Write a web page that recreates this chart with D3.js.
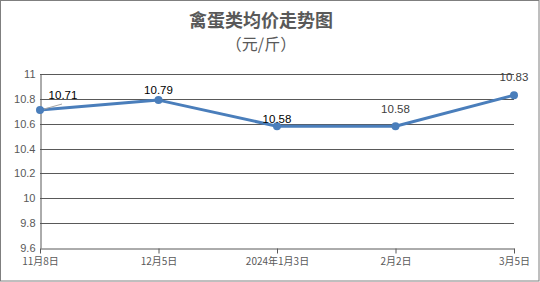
<!DOCTYPE html>
<html><head><meta charset="utf-8">
<script src="https://cdn.jsdelivr.net/npm/d3@7"></script>
<style>body{margin:0;background:#fff}svg{display:block}</style>
</head><body>
<script>
const categories = ["11月8日","12月5日","2024年1月3日","2月2日","3月5日"];
const values = [10.71, 10.79, 10.58, 10.58, 10.83];
const yTicks = [9.6, 9.8, 10, 10.2, 10.4, 10.6, 10.8, 11];
const yTickLabels = ["9.6","9.8","10","10.2","10.4","10.6","10.8","11"];
const title = "禽蛋类均价走势图";
const subtitle = "（元/斤）";

const W = 540, H = 282;
const svg = d3.select("body").append("svg").attr("width", W).attr("height", H);
svg.append("rect").attr("x",0.5).attr("y",0.5).attr("width",W-1.5).attr("height",H-1.5)
  .attr("fill","#fff").attr("stroke","#7f7f7f").attr("stroke-width",1);

const font = "'Noto Sans CJK SC','Microsoft YaHei',sans-serif";
svg.append("text").attr("x",261).attr("y",27).attr("text-anchor","middle")
  .attr("font-family",font).attr("font-size",18).attr("font-weight","600").attr("fill","#595959").text(title);
svg.append("text").attr("x",261).attr("y",50).attr("text-anchor","middle")
  .attr("font-family",font).attr("font-size",16).attr("fill","#595959").text(subtitle);

const x = d3.scalePoint().domain(categories).range([40, 514]);
const y = d3.scaleLinear().domain([9.6, 11]).range([248, 74]);

const g = svg.append("g");
g.selectAll("line.grid").data(yTicks.slice(1)).join("line").attr("class","grid")
  .attr("x1",40).attr("x2",514).attr("y1",d=>Math.round(y(d))+0.5).attr("y2",d=>Math.round(y(d))+0.5)
  .attr("stroke","#595959").attr("stroke-width",1);

const yAxis = d3.axisLeft(y).tickValues(yTicks).tickFormat((d,i)=>yTickLabels[i]).tickSize(0).tickPadding(5);
const ya = svg.append("g").attr("transform","translate(40.5,0)").call(yAxis);
ya.select(".domain").attr("stroke","#595959");
ya.selectAll("text").attr("font-family","'Liberation Sans',Arial,sans-serif").attr("font-size",11).attr("fill","#595959");

const xAxis = d3.axisBottom(x).tickSize(5).tickSizeOuter(0).tickPadding(4);
const xa = svg.append("g").attr("transform","translate(0,248.5)").call(xAxis);
xa.select(".domain").attr("stroke","#595959");
xa.selectAll(".tick line").attr("stroke","#595959");
xa.selectAll("text").attr("font-family",font).attr("font-size",10).attr("fill","#595959");

const line = d3.line().x((d,i)=>x(categories[i])).y(d=>y(d));
svg.append("path").datum(values).attr("d",line).attr("fill","none")
  .attr("stroke","#4a7ebb").attr("stroke-width",3).attr("stroke-linejoin","round");
svg.selectAll("circle.pt").data(values).join("circle").attr("class","pt")
  .attr("cx",(d,i)=>x(categories[i])).attr("cy",d=>y(d)).attr("r",4).attr("fill","#4a7ebb");

svg.append("line").attr("x1",x(categories[0])+4).attr("y1",y(values[0])-1)
  .attr("x2",x(categories[0])+22).attr("y2",y(values[0])-6).attr("stroke","#a6a6a6").attr("stroke-width",1);

const labelOffsets = [[23,-11,"#000"],[0,-6,"#000"],[0,-3,"#000"],[0,-13,"#404040"],[0,-14,"#404040"]];
svg.selectAll("text.lbl").data(values).join("text").attr("class","lbl")
  .attr("x",(d,i)=>x(categories[i])+labelOffsets[i][0]).attr("y",(d,i)=>y(d)+labelOffsets[i][1])
  .attr("text-anchor","middle").attr("font-family","'Liberation Sans',Arial,sans-serif").attr("font-size",11.5)
  .attr("fill",(d,i)=>labelOffsets[i][2]).text(d=>d.toFixed(2));
</script>
</body></html>
